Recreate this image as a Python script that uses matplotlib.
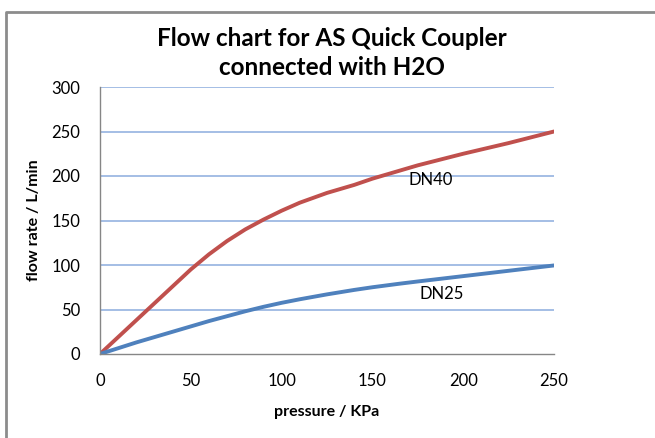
import numpy as np
import matplotlib.pyplot as plt
from matplotlib.lines import Line2D

plt.rcParams['font.family'] = ['Lato', 'DejaVu Sans']

# [data]
pressure = [0, 10, 20, 30, 40, 50, 60, 70, 80, 90, 100, 110, 125, 140, 150, 165, 175, 200, 225, 250]
dn40 = [0, 19, 38, 57, 76, 95, 112, 127, 140, 151, 161, 170, 181, 190, 197, 206, 212, 225, 237, 250]
dn25 = [0, 6.5, 13, 19, 25, 31, 37, 42.5, 48, 53, 57.5, 61.5, 67, 72, 75, 79, 81.5, 87.5, 93.5, 99.5]
x_ticks = [0, 50, 100, 150, 200, 250]
y_ticks = [0, 50, 100, 150, 200, 250, 300]

# [figure]
fig = plt.figure(figsize=(6.55, 4.38), dpi=100)
ax = fig.add_axes([100 / 655, 84 / 438, 454 / 655, 267 / 438])

ax.plot(pressure, dn40, color='#C0504D', linewidth=2.8, solid_capstyle='round')
ax.plot(pressure, dn25, color='#4F81BD', linewidth=2.8, solid_capstyle='round')

ax.text(182, 195, 'DN40', fontsize=12, ha='center', va='center')
ax.text(188, 67, 'DN25', fontsize=12, ha='center', va='center')

ax.set_xlim(0, 250)
ax.set_ylim(0, 300)
ax.set_xticks(x_ticks)
ax.set_yticks(y_ticks)
ax.tick_params(length=0, labelsize=12, pad=14)
ax.tick_params(axis='x', pad=14)

for y in y_ticks[1:]:
    ax.axhline(y, color='#9DB9E3', linewidth=1.3, zorder=0)

for side in ['top', 'right']:
    ax.spines[side].set_visible(False)
for side in ['left', 'bottom']:
    ax.spines[side].set_color('#868686')
    ax.spines[side].set_linewidth(1)

ax.set_xlabel('pressure / KPa', fontsize=11.5, fontweight='bold', labelpad=11)
ax.set_ylabel('flow rate / L/min', fontsize=11.5, fontweight='bold', labelpad=8)

fig.text(332 / 655, 1 - 53 / 438, 'Flow chart for AS Quick Coupler\nconnected with H2O',
         fontsize=17.5, fontweight='bold', ha='center', va='center', linespacing=1.35)

# [chart border]
fig.add_artist(Line2D([6 / 655, 6 / 655, 1], [0, 1 - 12 / 438, 1 - 12 / 438],
                      color='#8C8C8C', linewidth=2, transform=fig.transFigure))

fig.savefig('out.png', dpi=100)
